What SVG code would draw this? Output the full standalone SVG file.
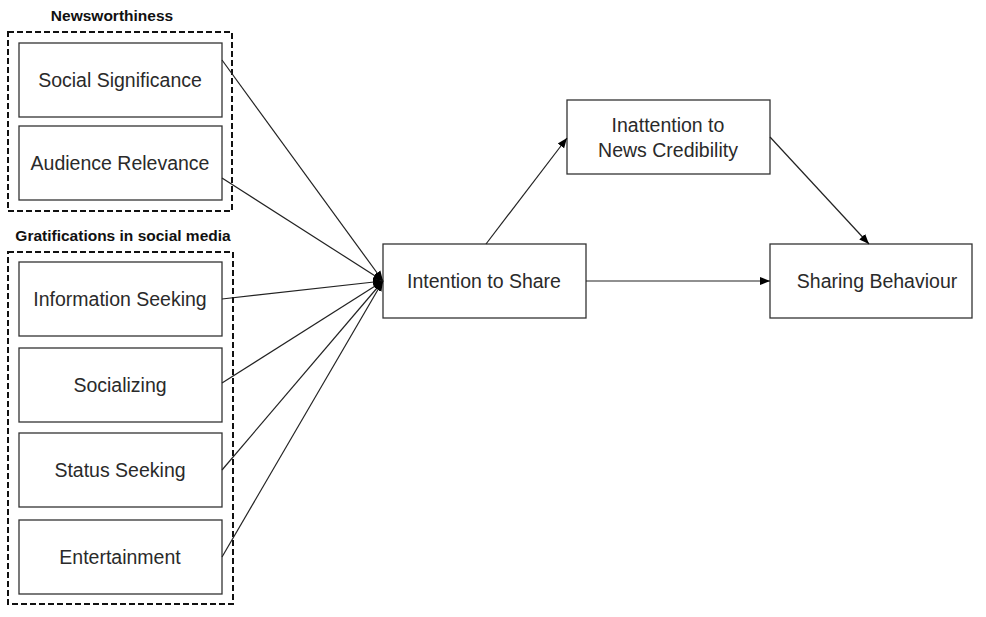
<svg xmlns="http://www.w3.org/2000/svg" width="986" height="617" viewBox="0 0 986 617">
<defs>
<style>
.box{fill:#fff;stroke:#333;stroke-width:1.3}
.grp{fill:none;stroke:#111;stroke-width:2;stroke-dasharray:6,3}
.lbl{font-family:"Liberation Sans",Arial,sans-serif;font-size:19.5px;fill:#2a2a2a;text-anchor:middle}
.ttl{font-family:"Liberation Sans",Arial,sans-serif;font-size:15.5px;font-weight:bold;fill:#111;text-anchor:middle}
.con{stroke:#222;stroke-width:1.2;fill:none}
</style>
<marker id="ah" viewBox="0 0 10 10" refX="10" refY="5" markerWidth="10" markerHeight="10" markerUnits="userSpaceOnUse" orient="auto">
<path d="M0,1 L10,5 L0,9 Z" fill="#000"/>
</marker>
</defs>
<rect width="986" height="617" fill="#fff"/>
<g id="group-newsworthiness">
<text class="ttl" x="112" y="21">Newsworthiness</text>
<rect class="grp" x="8" y="32" width="224" height="179"/>
</g>
<g id="group-gratifications">
<text class="ttl" x="123" y="241">Gratifications in social media</text>
<rect class="grp" x="8" y="252" width="225" height="352"/>
</g>
<g id="social-significance"><rect class="box" x="19" y="43" width="203" height="74"/><text class="lbl" x="120" y="87">Social Significance</text></g>
<g id="audience-relevance"><rect class="box" x="19" y="126" width="203" height="74"/><text class="lbl" x="120" y="170">Audience Relevance</text></g>
<g id="information-seeking"><rect class="box" x="19" y="262" width="203" height="74"/><text class="lbl" x="120" y="306">Information Seeking</text></g>
<g id="socializing"><rect class="box" x="19" y="348" width="203" height="74"/><text class="lbl" x="120" y="392">Socializing</text></g>
<g id="status-seeking"><rect class="box" x="19" y="433" width="203" height="74"/><text class="lbl" x="120" y="477">Status Seeking</text></g>
<g id="entertainment"><rect class="box" x="19" y="520" width="203" height="74"/><text class="lbl" x="120" y="564">Entertainment</text></g>
<g id="intention-to-share"><rect class="box" x="383" y="244" width="203" height="74"/><text class="lbl" x="484" y="288">Intention to Share</text></g>
<g id="inattention"><rect class="box" x="567" y="100" width="203" height="74"/><text class="lbl" x="668" y="132">Inattention to</text><text class="lbl" x="668" y="157">News Credibility</text></g>
<g id="sharing-behaviour"><rect class="box" x="770" y="244" width="202" height="74"/><text class="lbl" x="877" y="288">Sharing Behaviour</text></g>
<g id="connectors">
<line class="con" x1="222" y1="60" x2="383" y2="281" marker-end="url(#ah)"/>
<line class="con" x1="222" y1="178" x2="383" y2="281" marker-end="url(#ah)"/>
<line class="con" x1="222" y1="299" x2="383" y2="281" marker-end="url(#ah)"/>
<line class="con" x1="222" y1="383" x2="383" y2="281" marker-end="url(#ah)"/>
<line class="con" x1="222" y1="470" x2="383" y2="281" marker-end="url(#ah)"/>
<line class="con" x1="222" y1="557" x2="383" y2="281" marker-end="url(#ah)"/>
<line class="con" x1="486" y1="244" x2="567" y2="138" marker-end="url(#ah)"/>
<line class="con" x1="770" y1="137" x2="869" y2="244" marker-end="url(#ah)"/>
<line class="con" x1="586" y1="281" x2="770" y2="281" marker-end="url(#ah)"/>
</g>
</svg>
